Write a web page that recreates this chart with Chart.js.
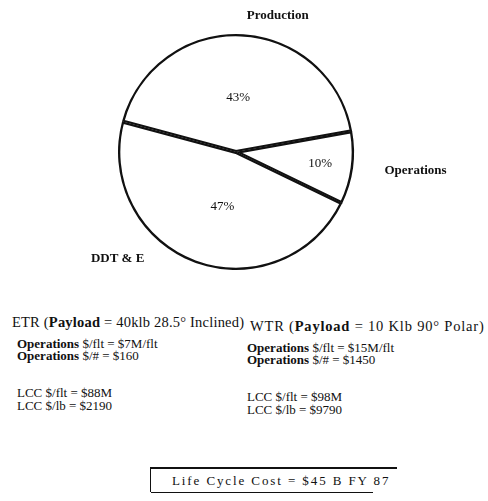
<!DOCTYPE html>
<html>
<head>
<meta charset="utf-8">
<script src="https://cdn.jsdelivr.net/npm/chart.js@4.4.1/dist/chart.umd.min.js"></script>
<style>
  body { margin: 0; width: 488px; height: 501px; background: #fff; position: relative; overflow: hidden;
         font-family: "Liberation Serif", "DejaVu Serif", serif; color: #111; }
  #pie { position: absolute; left: 0; top: 0; }
  .t { position: absolute; white-space: nowrap; font-size: 13px; line-height: 14px; }
  .h { font-size: 14.5px; line-height: 16px; }
  .t b { font-weight: bold; }
  #lcc { position: absolute; left: 150px; top: 467px; width: 246px; height: 23px;
         border-top: 2px solid #111; border-left: 1px solid #111; }
  #lcc:after { content: ""; position: absolute; left: 0; top: 23px; width: 222px; border-top: 1px solid #111; }
  #lcc span { position: absolute; left: 21px; top: 4px; font-size: 13px; letter-spacing: 1.9px; white-space: nowrap; }
</style>
</head>
<body>
<canvas id="pie" width="488" height="300"></canvas>

<div class="t h" style="left:12px; top:314px; letter-spacing:0.2px;">ETR (<b>Payload</b> = 40klb 28.5° Inclined)</div>
<div class="t" style="left:17px; top:337px;"><b>Operations</b> $/flt = $7M/flt</div>
<div class="t" style="left:17px; top:349px;"><b>Operations</b> $/# = $160</div>
<div class="t" style="left:17px; top:386px;">LCC $/flt = $88M</div>
<div class="t" style="left:17px; top:399px;">LCC $/lb = $2190</div>

<div class="t h" style="left:250px; top:318px; letter-spacing:0.8px;">WTR (<b>Payload</b> = 10 Klb 90° Polar)</div>
<div class="t" style="left:247px; top:341px;"><b>Operations</b> $/flt = $15M/flt</div>
<div class="t" style="left:247px; top:353px;"><b>Operations</b> $/# = $1450</div>
<div class="t" style="left:247px; top:390px;">LCC $/flt = $98M</div>
<div class="t" style="left:247px; top:403px;">LCC $/lb = $9790</div>

<div id="lcc"><span>Life Cycle Cost = $45 B FY 87</span></div>

<script>
const categories = ['Production', 'Operations', 'DDT & E'];
const shares = [43, 10, 47];
const shareLabels = ['43%', '10%', '47%'];

// where the text sits around each slice (fraction of radius, angles in degrees)
const innerRadius = [0.46, 0.72, 0.48];
const innerAngle = [null, null, 104];
const outerAngle = [-73, 6, 138];
const outerRadius = [1.21, 1.53, 1.35];

const sliceText = {
  id: 'sliceText',
  afterDatasetsDraw(chart) {
    const ctx = chart.ctx;
    const arcs = chart.getDatasetMeta(0).data;
    ctx.save();
    ctx.fillStyle = '#111';
    ctx.textAlign = 'center';
    ctx.textBaseline = 'middle';
    arcs.forEach((arc, i) => {
      const p = arc.getProps(['x', 'y', 'startAngle', 'endAngle', 'outerRadius'], true);
      const mid = innerAngle[i] === null ? (p.startAngle + p.endAngle) / 2 : innerAngle[i] * Math.PI / 180;
      ctx.font = '13px "Liberation Serif"';
      ctx.fillText(shareLabels[i], p.x + Math.cos(mid) * p.outerRadius * innerRadius[i],
                   p.y + Math.sin(mid) * p.outerRadius * innerRadius[i]);
      const a = outerAngle[i] * Math.PI / 180;
      ctx.font = 'bold 13px "Liberation Serif"';
      ctx.fillText(categories[i], p.x + Math.cos(a) * p.outerRadius * outerRadius[i],
                   p.y + Math.sin(a) * p.outerRadius * outerRadius[i]);
    });
    ctx.restore();
  }
};

new Chart(document.getElementById('pie').getContext('2d'), {
  type: 'pie',
  data: {
    labels: categories,
    datasets: [{
      data: shares,
      backgroundColor: '#fff',
      borderColor: '#111',
      borderWidth: 2,
      borderAlign: 'inner',
      hoverOffset: 0
    }]
  },
  options: {
    responsive: false,
    animation: false,
    events: [],
    rotation: -75,
    layout: { padding: { left: 118, right: 134, top: 34, bottom: 30 } },
    plugins: {
      legend: { display: false },
      title: { display: false },
      tooltip: { enabled: false }
    }
  },
  plugins: [sliceText]
});
</script>
</body>
</html>
